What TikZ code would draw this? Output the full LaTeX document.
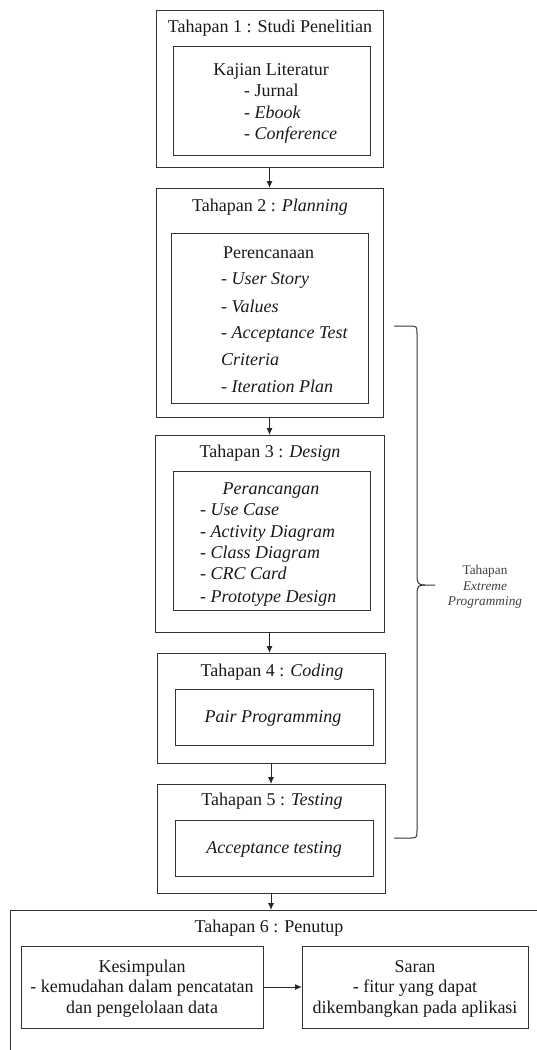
\documentclass[tikz,border=0pt]{standalone}
\usepackage{fontspec}
\setmainfont{Liberation Serif}
\usetikzlibrary{arrows.meta,fit}
\begin{document}
\begin{tikzpicture}[x=1pt,y=-1pt,
  box/.style={draw=black!80, line width=1pt, inner sep=0pt, outer sep=0pt},
  txt/.style={font=\fontsize{18}{21}\selectfont, inner sep=0pt, anchor=mid, yshift=-3.5pt, text=black!90},
  txtl/.style={txt, anchor=mid west},
  small/.style={font=\fontsize{13.3}{15.5}\selectfont, inner sep=0pt, align=center, text=black!75},
  arr/.style={-{Latex[length=7pt,width=6pt]}, line width=1pt, draw=black!85},
  brace/.style={draw=black!80, line width=1pt}]
\useasboundingbox (0,0) rectangle (536,1050);

% Tahapan 1
\node[box, fit={(156,10) (383,167)}] (s1) {};
\node[box, fit={(173,46) (370,155)}] (i1) {};
\node[txt] (t1) at (270,27) {Tahapan 1 : Studi Penelitian};
\node[txt] (a1) at (271,70) {Kajian Literatur};
\node[txtl] (a2) at (244,91) {- Jurnal};
\node[txtl] (a3) at (244,113) {- \textit{Ebook}};
\node[txtl] (a4) at (244,134) {- \textit{Conference}};

% Tahapan 2
\node[box, fit={(156,188) (383,417)}] (s2) {};
\node[box, fit={(171,233) (368,403)}] (i2) {};
\node[txt] (t2) at (270,206) {Tahapan 2 : \textit{Planning}};
\node[txtl] (b1) at (223,253) {Perencanaan};
\node[txtl] (b2) at (221,279) {- \textit{User Story}};
\node[txtl] (b3) at (221,307) {- \textit{Values}};
\node[txtl] (b4) at (221,333) {- \textit{Acceptance Test}};
\node[txtl] (b5) at (221,360) {\textit{Criteria}};
\node[txtl] (b6) at (221,387) {- \textit{Iteration Plan}};

% Tahapan 3
\node[box, fit={(155,435) (384,632)}] (s3) {};
\node[box, fit={(173,471) (370,610)}] (i3) {};
\node[txt] (t3) at (270,452) {Tahapan 3 : \textit{Design}};
\node[txt] (c1) at (271,489) {\textit{Perancangan}};
\node[txtl] (c2) at (200,510) {- \textit{Use Case}};
\node[txtl] (c3) at (200,532) {- \textit{Activity Diagram}};
\node[txtl] (c4) at (200,553) {- \textit{Class Diagram}};
\node[txtl] (c5) at (200,574) {- \textit{CRC Card}};
\node[txtl] (c6) at (200,597) {- \textit{Prototype Design}};

% Tahapan 4
\node[box, fit={(157,653) (385,763)}] (s4) {};
\node[box, fit={(175,689) (373,745)}] (i4) {};
\node[txt] (t4) at (272,671) {Tahapan 4 : \textit{Coding}};
\node[txt] (d1) at (273,717) {\textit{Pair Programming}};

% Tahapan 5
\node[box, fit={(157,784) (385,893)}] (s5) {};
\node[box, fit={(175,820) (373,876)}] (i5) {};
\node[txt] (t5) at (272,800) {Tahapan 5 : \textit{Testing}};
\node[txt] (e1) at (274,848) {\textit{Acceptance testing}};

% Tahapan 6
\draw[box] (10,1052) -- (10,910) -- (538,910);
\coordinate (s6) at (271,910);
\node[txt] (t6) at (269,927) {Tahapan 6 : Penutup};
\node[box, fit={(21,946) (263,1028)}] (kes) {};
\node[box, fit={(302,946) (528,1028)}] (saran) {};
\node[txt] (k1) at (142,967) {Kesimpulan};
\node[txt] (k2) at (142,987) {- kemudahan dalam pencatatan};
\node[txt] (k3) at (142,1008) {dan pengelolaan data};
\node[txt] (r1) at (415,967) {Saran};
\node[txt] (r2) at (415,987) {- fitur yang dapat};
\node[txt] (r3) at (415,1008) {dikembangkan pada aplikasi};

% connectors
\draw[arr] (s1.south) -- (s2.north);
\draw[arr] (s2.south) -- (s3.north);
\draw[arr] (s3.south) -- (s4.north -| s3.south);
\draw[arr] (s4.south) -- (s5.north);
\draw[arr] (s5.south) -- (s6);
\draw[arr] (kes.east) -- (saran.west);

% brace
\draw[brace] (394,326) -- (409,326) .. controls (417,326) .. (417,334) -- (417,576)
  .. controls (417,584) and (419,585) .. (425,585) -- (435,585);
\draw[brace] (425,585) .. controls (419,585) and (417,586) .. (417,594) -- (417,830)
  .. controls (417,838) .. (409,838) -- (394,838);
\node[small] (xp) at (485,587) {Tahapan\\\textit{Extreme}\\\textit{Programming}};
\end{tikzpicture}
\end{document}
